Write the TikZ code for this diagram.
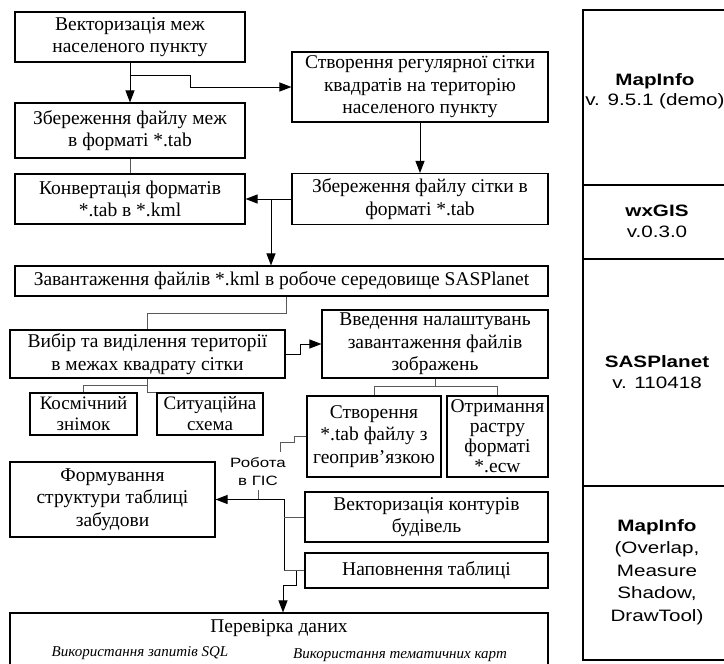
\documentclass[tikz,border=0pt]{standalone}
\usepackage{fontspec}
\setmainfont{Liberation Serif}
\newfontfamily\arialf{Liberation Sans}[FakeStretch=1.25]
\usetikzlibrary{arrows.meta}
\tikzset{box/.style={draw=black, line width=1.1pt, align=center, inner sep=0pt,
   font=\fontsize{19.5}{22.5}\selectfont},
 sz/.style 2 args={minimum width=#1pt, minimum height=#2pt},
 arr/.style={draw=black, line width=1pt, -{Triangle[length=12pt,width=9pt]}},
 lin/.style={draw=black!65, line width=1pt},
 soft/.style={align=center, font=\arialf\fontsize{16.5}{21}\selectfont},
 }

\begin{document}
\begin{tikzpicture}[x=1pt, y=-1pt]
        \useasboundingbox (0,0) rectangle (724,664);
        \node[box, sz={230}{50}] (vecb) at (130,37) {Векторизація меж\\населеного пункту};
        \node[box, sz={256}{70}] (grid) at (420,87) {Створення регулярної сітки\\квадратів на територію\\населеного пункту};
        \node[box, sz={230}{55}] (savb) at (130,130.5) {Збереження файлу меж\\в форматі *.tab};
        \node[box, sz={230}{50}] (conv) at (130,199) {Конвертація форматів\\*.tab в *.kml};
        \node[box, sz={256}{51}] (savg) at (420,199) {Збереження файлу сітки в\\форматі *.tab};
        \node[box, sz={533}{30}] (load) at (281.5,281) {Завантаження файлів *.kml в робоче середовище SASPlanet};
        \node[box, sz={275}{48}] (sel) at (147.5,354) {Вибір та виділення території\\в межах квадрату сітки};
        \node[box, sz={226}{68}] (sett) at (435,344) {Введення налаштувань\\завантаження файлів\\зображень};
        \node[box, sz={107}{42}, font=\fontsize{19}{21}\selectfont] (kosm) at (83.5,414) {Космічний\\знімок};
        \node[box, sz={106}{42}, font=\fontsize{19}{21}\selectfont] (sit) at (210,414) {Ситуаційна\\схема};
        \node[box, sz={134}{81}] (mktab) at (374,436.5) {Створення\\*.tab файлу з\\геоприв’язкою};
        \node[box, sz={101}{81}, font=\fontsize{19.5}{20}\selectfont] (ecw) at (497.5,436.5) {Отримання\\растру\\форматі\\*.ecw};
        \node[box, sz={205}{75}] (struct) at (112.5,499.5) {Формування\\структури таблиці\\забудови};
        \node[box, sz={243}{50}] (vcont) at (426.5,517) {Векторизація контурів\\будівель};
        \node[box, sz={243}{35}] (fill) at (426.5,570.5) {Наповнення таблиці};
        \node[box, sz={538}{60}] (check) at (279,643) {};
        \node (chk) at (279,628) {\fontsize{19.5}{22}\selectfont Перевірка даних};
        \node (sql) at (140,653) {\fontsize{15}{17}\selectfont\itshape Використання запитів SQL};
        \node (them) at (400,655) {\fontsize{15}{17}\selectfont\itshape Використання тематичних карт};
        \node[soft, font=\arialf\fontsize{13.5}{18}\selectfont] (gis) at (258,472) {Робота\\в ГІС};

        \draw[line width=1.1pt] (583,10) rectangle (740,660);
        \draw[line width=1.1pt] (583,185) -- (740,185) (583,259) -- (740,259) (583,486) -- (740,486);
        \node[soft, font=\arialf\fontsize{16.5}{19.5}\selectfont] (mi1) at (655,91) {\textbf{MapInfo}\\v. 9.5.1 (demo)};
        \node[soft] (wx) at (657,221) {\textbf{wxGIS}\\v.0.3.0};
        \node[soft] (sas) at (657,372) {\textbf{SASPlanet}\\v. 110418};
        \node[soft, font=\arialf\fontsize{16.5}{22.5}\selectfont] (mi2) at (657,572) {\textbf{MapInfo}\\(Overlap,\\Measure\\Shadow,\\DrawTool)};

        \coordinate (j1) at (130,75);
        \coordinate (j2) at (271,199);
        \coordinate (j3) at (284,570.5);
        \coordinate (j4) at (296,570.5);
        \coordinate (j5) at (283,585);
        \coordinate (g1) at (280,452);
        \draw[arr] (vecb) -- (savb);
        \draw[arr] (j1) -- ++(60,0) |- (grid.west);
        \draw[lin] (savb) -- (conv);
        \draw[arr] (grid) -- (savg);
        \draw[arr] (savg.west) -- (conv.east);
        \draw[arr] (j2) -- (j2 |- load.north);
        \draw[lin] (load.south -| 286,0) -- ++(0,17) -| (sel.north);
        \draw[arr] (sel.east) -- ++(15,0) |- (sett.west);
        \draw[lin] (sel.south) -- ++(0,7) -| (kosm.north);
        \draw[lin] (sel.south) |- (sit.north west);
        \draw[lin] (sett.south) -- ++(0,8) -| (mktab.north);
        \draw[lin] (sett.south) ++(0,8) -| (ecw.north);
        \draw[lin] (mktab.west) -- ++(-12,0) -- ++(0,6) -| (g1);
        \draw[lin] (gis.south) -- (gis.south |- struct.east);
        \draw[arr] (j3) |- (struct.east);
        \draw[lin] (vcont.west) -- (vcont.west -| j3);
        \draw[lin] (fill.west) -- (j3);
        \draw[arr] (j4) |- (j5) -- (j5 |- check.north);
    \end{tikzpicture}
\end{document}
